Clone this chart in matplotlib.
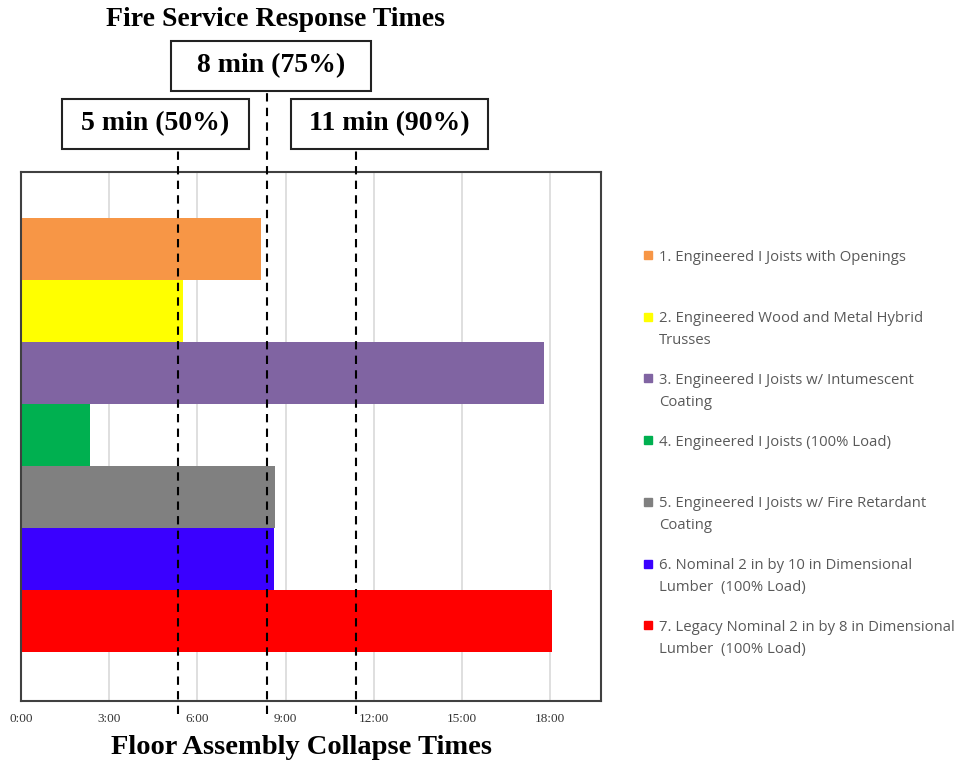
import matplotlib.pyplot as plt
from matplotlib.patches import Rectangle

# collapse times in minutes
labels = ["1. Engineered I Joists with Openings",
          "2. Engineered Wood and Metal Hybrid\nTrusses",
          "3. Engineered I Joists w/ Intumescent\nCoating",
          "4. Engineered I Joists (100% Load)",
          "5. Engineered I Joists w/ Fire Retardant\nCoating",
          "6. Nominal 2 in by 10 in Dimensional\nLumber  (100% Load)",
          "7. Legacy Nominal 2 in by 8 in Dimensional\nLumber  (100% Load)"]
collapse_min = [8.15, 5.50, 17.78, 2.34, 8.65, 8.62, 18.05]
colors = ["#F79646", "#FFFF00", "#8064A2", "#00B050", "#808080", "#3A00FF", "#FF0000"]

# fire service response times (marker lines)
resp_labels = ["5 min (50%)", "8 min (75%)", "11 min (90%)"]
resp_min = [5.33, 8.38, 11.40]

tick_min = [0, 3, 6, 9, 12, 15, 18]

W, H = 955, 766
fig = plt.figure(figsize=(W / 100, H / 100), dpi=100)

def fx(px):
    return px / W

def fy(py):
    return 1 - py / H

ax = fig.add_axes([fx(21), fy(701), fx(601) - fx(21), fy(172) - fy(701)])

ypos = list(range(len(collapse_min)))
ax.barh(ypos, collapse_min, height=1.0, color=colors, zorder=2)
ax.set_ylim(7.3, -1.25)
ax.set_xlim(0, 19.73)
ax.set_yticks([])
ax.set_xticks(tick_min)
ax.set_xticklabels(["%d:00" % t for t in tick_min], fontsize=9.5,
                   family="Liberation Serif", color="#333333")
ax.tick_params(axis="x", length=0, pad=9)
ax.grid(axis="x", color="#D9D9D9", linewidth=1.2, zorder=0)
for s in ax.spines.values():
    s.set_color("#404040")
    s.set_linewidth(1.5)

# dashed response lines + boxes
box_px = [(62, 99, 249, 149), (171, 41, 371, 91), (291, 99, 488, 149)]
for t, lab, (x0, y0, x1, y1) in zip(resp_min, resp_labels, box_px):
    top = (701 - y1) / (701 - 172)
    ax.axvline(t, ymin=-0.025, ymax=top, color="black", linestyle=(0, (4, 3)),
               linewidth=1.5, clip_on=False, zorder=3)
    fig.patches.append(Rectangle((fx(x0), fy(y1)), fx(x1) - fx(x0), fy(y0) - fy(y1),
                                 transform=fig.transFigure, fill=False,
                                 edgecolor="#222222", linewidth=1.5))
    fig.text(fx((x0 + x1) / 2), fy((y0 + y1) / 2), lab, ha="center", va="center",
             fontsize=20, fontweight="bold", family="Liberation Serif")

fig.text(fx(275), fy(19), "Fire Service Response Times", ha="center", va="center",
         fontsize=20, fontweight="bold", family="Liberation Serif")
fig.text(fx(301), fy(748), "Floor Assembly Collapse Times", ha="center", va="center",
         fontsize=20.5, fontweight="bold", family="Liberation Serif")

# legend on the right, one entry per bar row
for i, (lab, c) in enumerate(zip(labels, colors)):
    yc = 255 + i * 61.7
    fig.patches.append(Rectangle((fx(644), fy(yc + 4)), fx(8), 8 / H,
                                 transform=fig.transFigure, color=c))
    for j, line in enumerate(lab.split("\n")):
        fig.text(fx(659), fy(yc + 22 * j), line, ha="left", va="center_baseline",
                 fontsize=10.7, family="Open Sans", color="#595959")

fig.savefig("out.png", dpi=100)
